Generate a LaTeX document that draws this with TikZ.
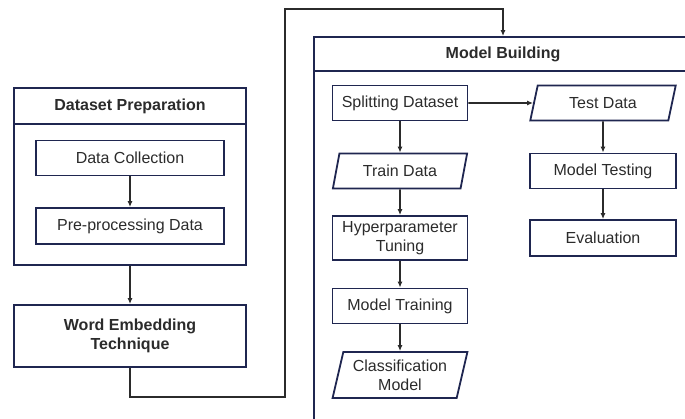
\documentclass[tikz,border=0pt]{standalone}
\usepackage{fontspec}
\setmainfont{Liberation Sans}
\usetikzlibrary{arrows.meta, shapes.geometric}

\definecolor{navy}{HTML}{1F2650}
\definecolor{ink}{HTML}{2B2B2B}

\begin{document}
\begin{tikzpicture}[x=1pt,y=-1pt,
		every node/.style={text=ink, font=\fontsize{16}{19}\selectfont},
		group/.style = {draw=navy, line width=1.8pt},
		head/.style = {draw=navy, line width=1.8pt, font=\fontsize{16}{19}\selectfont\bfseries, anchor=north},
		box/.style = {draw=navy, line width=1.8pt, align=center, minimum width=135pt, minimum height=35pt, inner sep=2pt},
		data/.style = {box, trapezium, trapezium left angle=75, trapezium right angle=105, trapezium stretches=true},
		link/.style = {draw=ink, line width=1.7pt, -{Latex[length=6pt,width=5pt]}}]
		\clip (0,0) rectangle (685,418);
		% dataset preparation
		\node [group, minimum width=232pt, minimum height=177pt] (prep) at (130,176.5) {};
		\node [head, minimum width=232pt, minimum height=36pt] (prephead) at (prep.north) {Dataset Preparation};
		\node [box, minimum width=188pt, minimum height=35pt] (collect) at (130,158) {Data Collection};
		\node [box, minimum width=188pt, minimum height=36pt] (preproc) at (130,226) {Pre-processing Data};
		\node [box, font=\fontsize{16}{19}\selectfont\bfseries, minimum width=232pt, minimum height=62pt] (embed) at (130,336) {Word Embedding\\Technique};
		% model building
		\node [group, minimum width=378pt, minimum height=400pt] (build) at (503,237) {};
		\node [head, minimum width=378pt, minimum height=34pt] (buildhead) at (build.north) {Model Building};
		\node [box] (split) at (400,103) {Splitting Dataset};
		\node [data, minimum width=146pt] (test) at (603,103) {Test Data};
		\node [data] (train) at (400,171) {Train Data};
		\node [box, minimum height=44pt] (tune) at (400,238) {Hyperparameter\\Tuning};
		\node [box] (fit) at (400,306) {Model Training};
		\node [data, minimum height=46pt] (clf) at (400,375) {Classification\\Model};
		\node [box, minimum width=146pt] (testing) at (603,171) {Model Testing};
		\node [box, minimum width=146pt, minimum height=36pt] (eval) at (603,238) {Evaluation};
		% connectors
		\coordinate (low) at (285,397);
		\coordinate (high) at (285,9);
		\draw [link] (collect) -- (preproc);
		\draw [link] (prep.south) -- (embed.north);
		\draw [link] (embed.south) |- (low) -- (high) -| (buildhead.north);
		\draw [link] (split) -- (test);
		\draw [link] (split) -- (train);
		\draw [link] (train) -- (tune);
		\draw [link] (tune) -- (fit);
		\draw [link] (fit) -- (clf);
		\draw [link] (test) -- (testing);
		\draw [link] (testing) -- (eval);
	\end{tikzpicture}
\end{document}
